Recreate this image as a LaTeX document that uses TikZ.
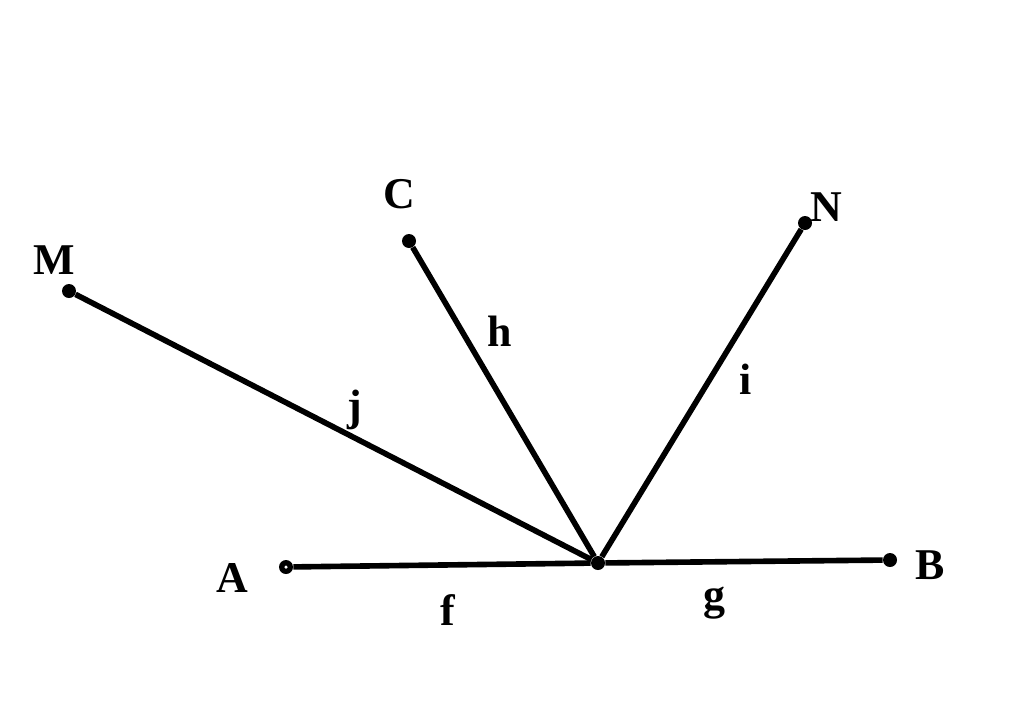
\documentclass[tikz,border=0pt]{standalone}
\usepackage{fontspec}
\setmainfont{Liberation Serif}
\usepackage{tikz}
\usetikzlibrary{positioning}
\tikzset{
  pt/.style={circle, fill=black, inner sep=0pt, minimum size=0.28cm},
  ring/.style={circle, fill=black, inner sep=0pt, minimum size=0.28cm},
  hole/.style={circle, fill=white, inner sep=0pt, minimum size=0.07cm},
  lbl/.style={font=\fontsize{25}{29}\selectfont\bfseries},
  seg/.style={line width=3.2pt}
}

\begin{document}
\begin{tikzpicture}[x=0.02cm, y=-0.02cm]
\useasboundingbox (0,0) rectangle (1024,707);
\node[pt] (o) at (598,563) {};
\node[ring] (a) at (286,567) {};
\node[pt] (b) at (890,560) {};
\node[pt] (m) at (69,291) {};
\node[pt] (c) at (409,241) {};
\node[pt] (n) at (805,223) {};
\draw [seg] (a) -- (o);
\draw [seg] (o) -- (b);
\draw [seg] (o) -- (m);
\draw [seg] (o) -- (c);
\draw [seg] (o) -- (n);
\node[hole] (ah) at (a) {};
\node[lbl] (la) at (232,578) {A};
\node[lbl] (lb) at (930,565) {B};
\node[lbl] (lm) at (54,260) {M};
\node[lbl] (lc) at (399,194) {C};
\node[lbl] (ln) at (826,207) {N};
\node[lbl] (lf) at (448,610) {f};
\node[lbl] (lg) at (714,603) {g};
\node[lbl] (lh) at (500,331) {h};
\node[lbl] (li) at (746,379) {i};
\node[lbl] (lj) at (355,410) {j};
\end{tikzpicture}
\end{document}
